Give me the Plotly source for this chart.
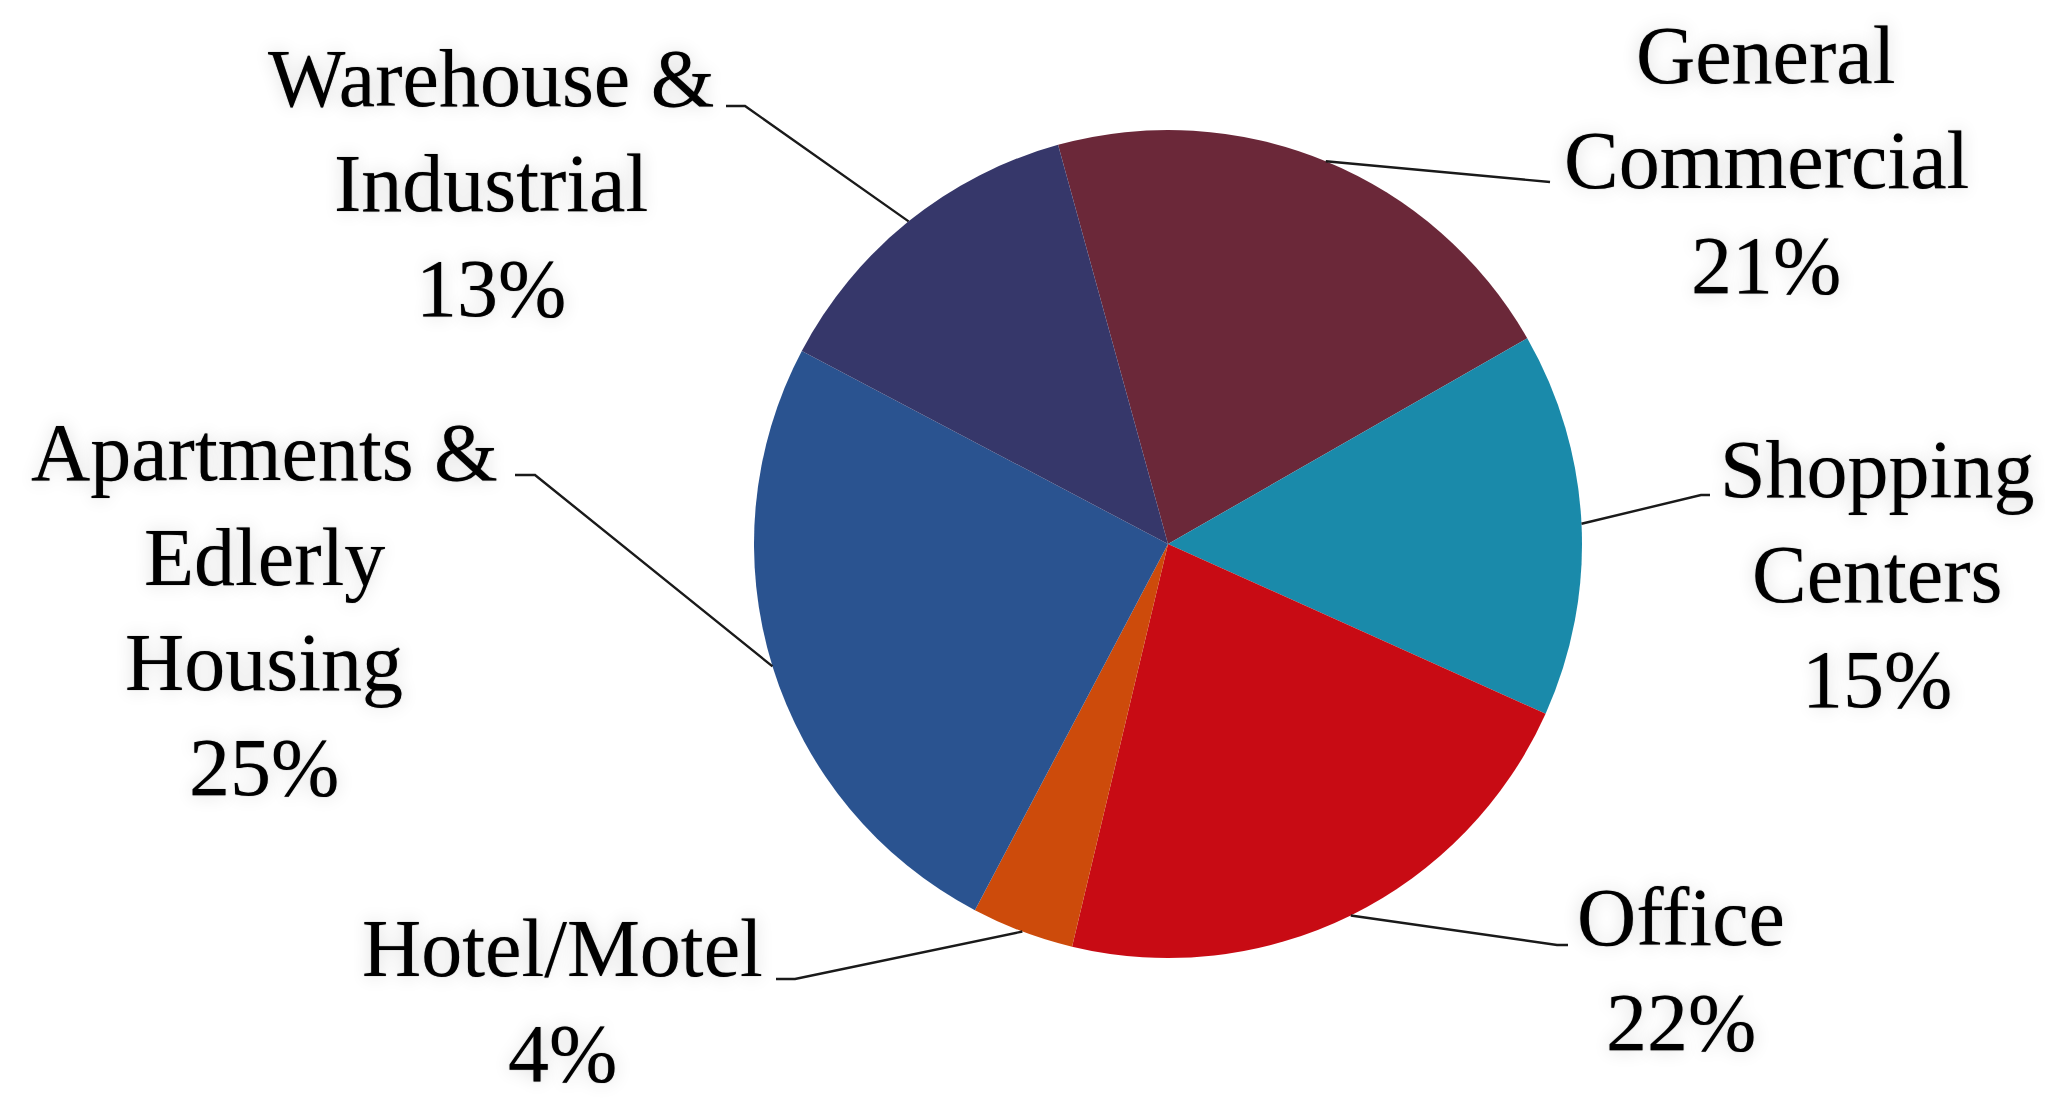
import math
import plotly.graph_objects as go

# ---- data ----
categories = ["General Commercial", "Shopping Centers", "Office", "Hotel/Motel",
              "Apartments & Edlerly Housing", "Warehouse & Industrial"]
label_lines = [["General", "Commercial"], ["Shopping", "Centers"], ["Office"], ["Hotel/Motel"],
               ["Apartments &", "Edlerly", "Housing"], ["Warehouse &", "Industrial"]]
values = [21, 15, 22, 4, 25, 13]
colors = ["#6b2839", "#1a8aaa", "#c80b14", "#cd4b0b", "#2a5390", "#36376a"]

# ---- layout constants ----
W, H = 2053, 1100
CX, CY, R = 1160, 536, 414           # pie centre / radius in px
ROT = -15.4                          # start angle of first slice (deg, clockwise from 12 o'clock)
FS = 82                              # label font size
LINE = 105                           # label line spacing (px)

# label centre x and first-line baseline (px)
label_pos = [(1758, 75), (1869, 489), (1673, 937), (554, 968), (256, 472), (483, 98)]
# leader-line points on the label side (px)
leader_pts = [
    [(1542, 174)],
    [(1702, 487), (1693, 487)],
    [(1560, 937), (1549, 937)],
    [(768, 971), (787, 971)],
    [(507, 467), (527, 467)],
    [(718, 98), (737, 98)],
]

def px(x, y):
    return x / W, 1 - y / H

dx0, dy0 = px(CX - R, CY - R)
dx1, dy1 = px(CX + R, CY + R)

fig = go.Figure(go.Pie(
    labels=categories,
    values=values,
    sort=False,
    direction="clockwise",
    rotation=ROT,
    marker=dict(colors=colors, line=dict(width=0)),
    textinfo="none",
    hoverinfo="label+percent",
    showlegend=False,
    domain=dict(x=[dx0, dx1], y=[dy1, dy0]),
))

font = dict(family="Liberation Serif", size=FS, color="black",
            shadow="0px 0px 1px rgba(0,0,0,0.55), 0px 0px 18px rgba(0,0,0,0.16)")

total = sum(values)
cum = 0
shapes = []
annotations = []
for lines, v, (lx, base), pts in zip(label_lines, values, label_pos, leader_pts):
    mid = math.radians(ROT + 360 * (cum + v / 2) / total)
    cum += v
    ex, ey = CX + R * math.sin(mid), CY - R * math.cos(mid)
    allpts = pts + [(ex, ey)]
    path = ""
    for i, (x, y) in enumerate(allpts):
        X, Y = px(x, y)
        path += ("M" if i == 0 else " L") + f" {X:.5f},{Y:.5f}"
    shapes.append(dict(type="path", path=path, xref="paper", yref="paper",
                       line=dict(color="#1a1a1a", width=2.4)))
    texts = lines + [f"{round(100 * v / total)}%"]
    for j, t in enumerate(texts):
        bx = base + j * LINE
        ax, ay = px(lx, bx - 0.3375 * FS)
        annotations.append(dict(
            x=ax, y=ay, xref="paper", yref="paper", showarrow=False,
            text=t, xanchor="center", yanchor="middle", align="center",
            font=font,
        ))

fig.update_layout(
    width=W, height=H,
    margin=dict(l=0, r=0, t=0, b=0),
    paper_bgcolor="white", plot_bgcolor="white",
    shapes=shapes, annotations=annotations,
)

fig.write_html("out.html")
